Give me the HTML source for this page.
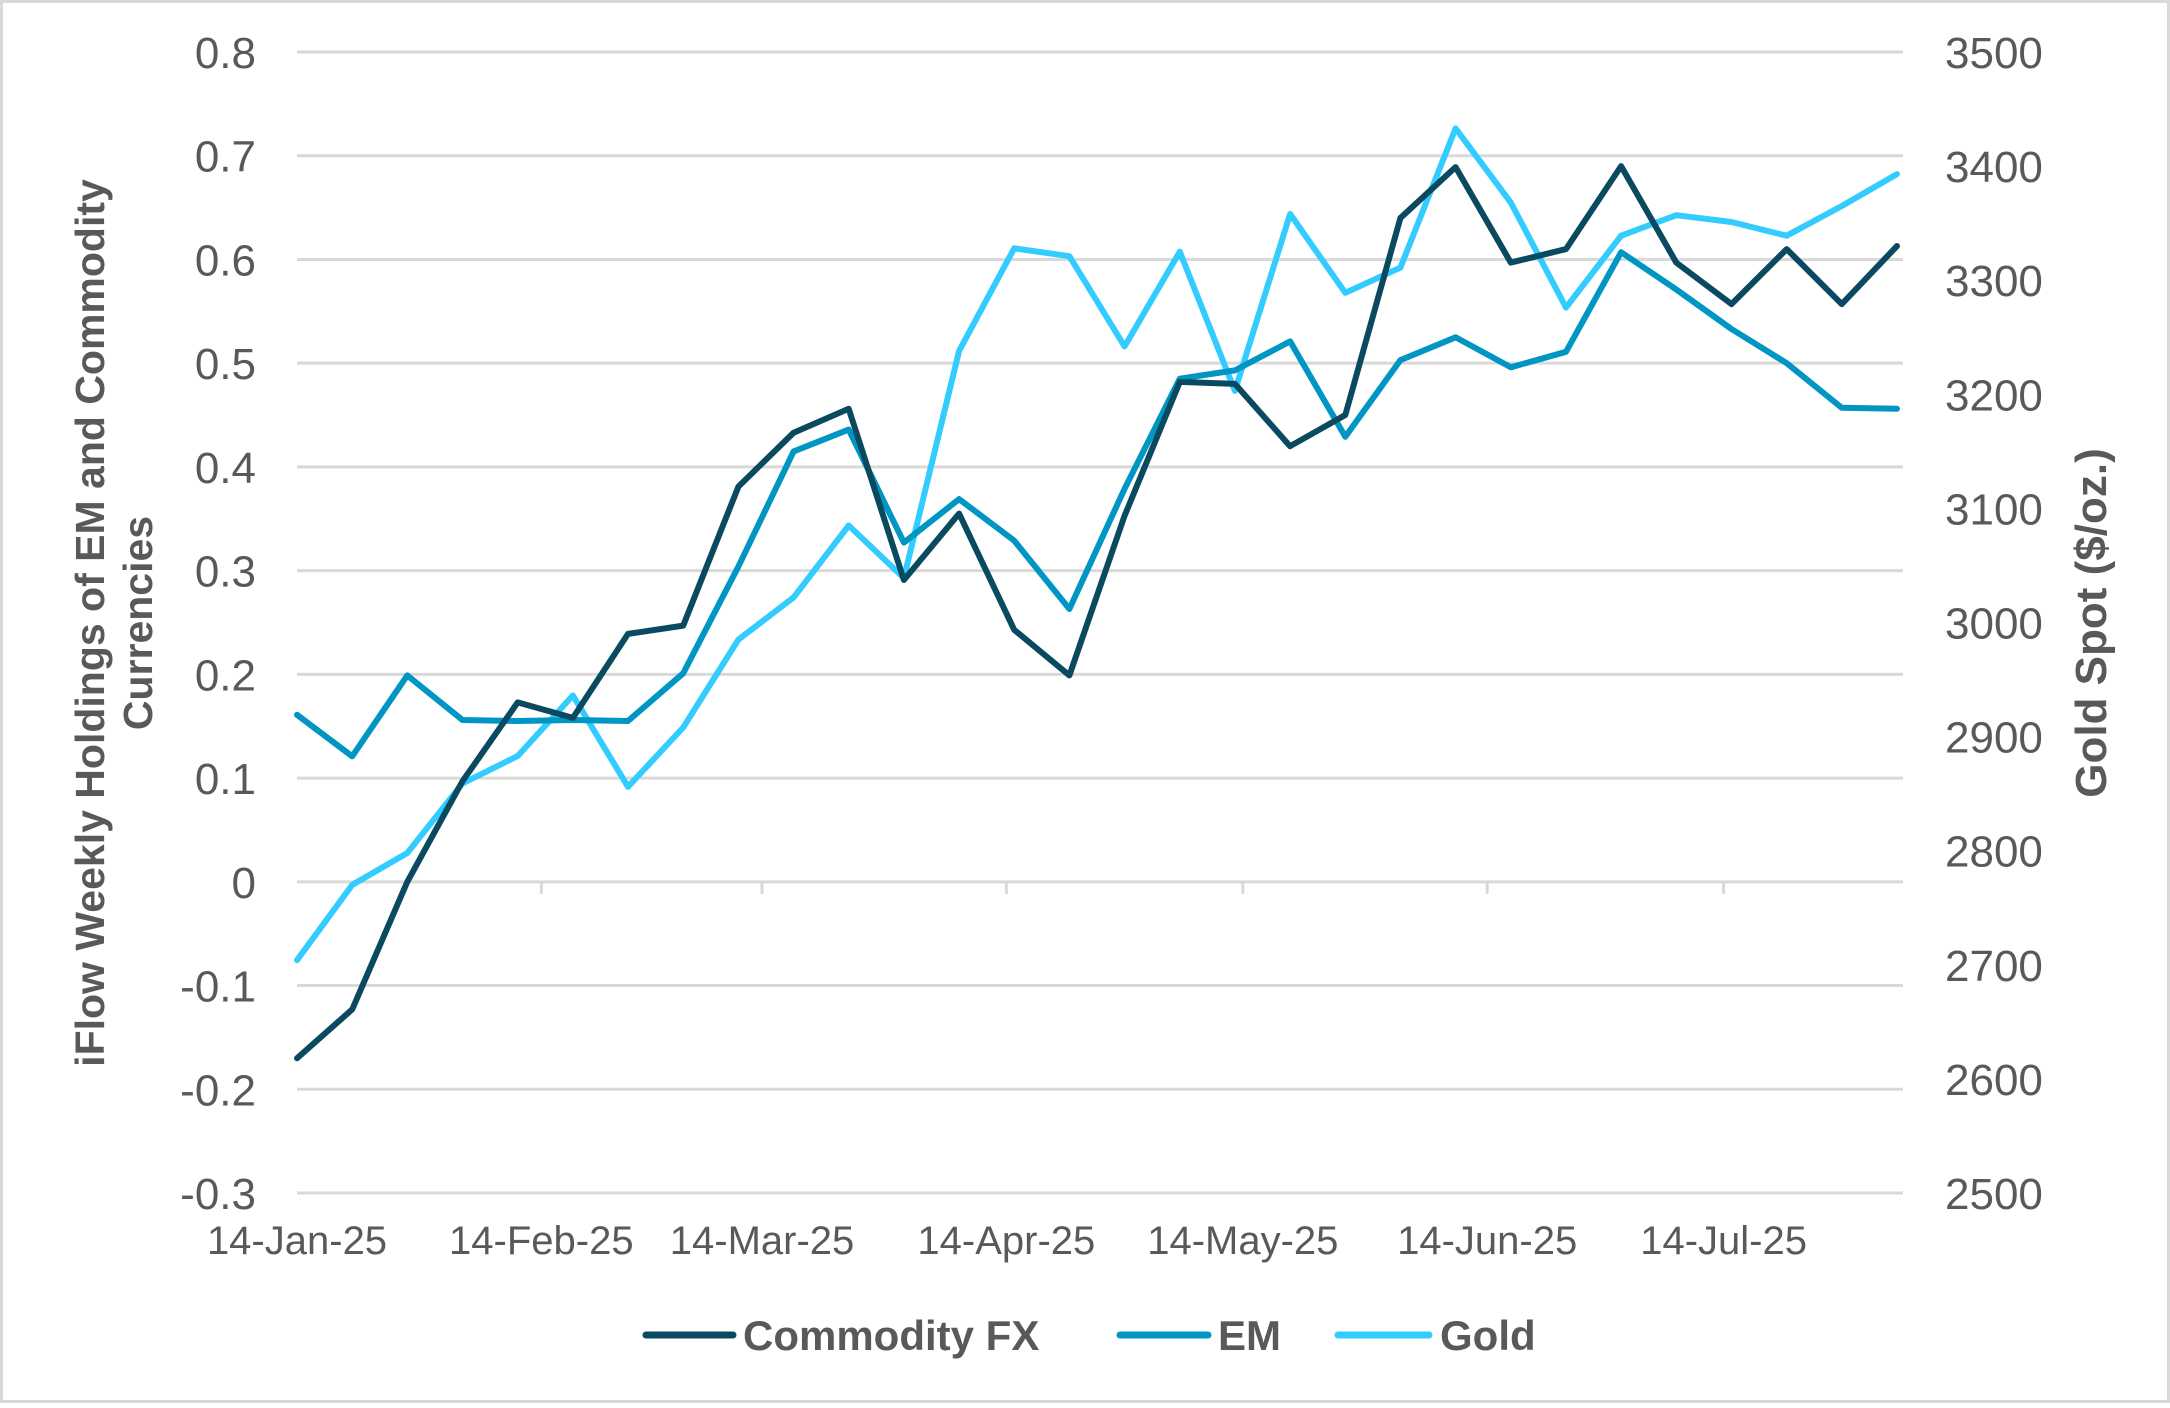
<!DOCTYPE html>
<html><head><meta charset="utf-8"><style>
html,body{margin:0;padding:0;background:#fff;}
body{width:2170px;height:1403px;overflow:hidden;font-family:"Liberation Sans",Arial,sans-serif;}
svg text{font-family:"Liberation Sans",Arial,sans-serif;fill:#595959;}
</style></head><body>
<svg id="chart" width="2170" height="1403" viewBox="0 0 2170 1403" xmlns="http://www.w3.org/2000/svg">
<rect x="1.5" y="1.5" width="2167" height="1400" fill="#fff" stroke="#d9d9d9" stroke-width="3"/>
<g id="grid"></g>
<g id="xticks"></g>
<g id="lticks"></g>
<g id="rticks"></g>
<g id="series"></g>
<text transform="translate(104,623) rotate(-90)" text-anchor="middle" font-size="41" font-weight="bold">iFlow Weekly Holdings of EM and Commodity</text>
<text transform="translate(152,623) rotate(-90)" text-anchor="middle" font-size="41" font-weight="bold">Currencies</text>
<text transform="translate(2106,623) rotate(-90)" text-anchor="middle" font-size="44" font-weight="bold">Gold Spot ($/oz.)</text>
<g>
<g><line x1="646" y1="1335" x2="733" y2="1335" stroke="#0a4a60" stroke-width="7" stroke-linecap="round"/><text x="743" y="1350" font-size="42" font-weight="bold">Commodity FX</text></g>
<g><line x1="1120" y1="1335" x2="1208" y2="1335" stroke="#0096c4" stroke-width="7" stroke-linecap="round"/><text x="1218" y="1350" font-size="42" font-weight="bold">EM</text></g>
<g><line x1="1338" y1="1335" x2="1429" y2="1335" stroke="#33ccff" stroke-width="7" stroke-linecap="round"/><text x="1440" y="1350" font-size="42" font-weight="bold">Gold</text></g>
</g>
</svg>
<script>
const commodityFX=[-0.17,-0.123,0,0.097,0.173,0.158,0.239,0.247,0.381,0.433,0.456,0.291,0.355,0.243,0.199,0.353,0.482,0.48,0.42,0.45,0.64,0.689,0.597,0.61,0.69,0.597,0.557,0.61,0.557,0.613];
const em=[0.161,0.121,0.199,0.156,0.155,0.156,0.155,0.201,0.304,0.415,0.436,0.327,0.369,0.329,0.263,0.379,0.485,0.493,0.521,0.429,0.503,0.525,0.496,0.511,0.607,0.571,0.533,0.5,0.457,0.456];
const gold=[2704,2770,2798,2859,2883,2936,2856,2908,2985,3022,3085,3039,3238,3328,3321,3242,3325,3203,3358,3289,3311,3433,3368,3276,3339,3357,3351,3339,3365,3393];
const xTickLabels=["14-Jan-25","14-Feb-25","14-Mar-25","14-Apr-25","14-May-25","14-Jun-25","14-Jul-25"];
const xTickDays=[0,31,59,90,120,151,181];
const leftTicks=[0.8,0.7,0.6,0.5,0.4,0.3,0.2,0.1,0,-0.1,-0.2,-0.3];
const rightTicks=[3500,3400,3300,3200,3100,3000,2900,2800,2700,2600,2500];

const NS="http://www.w3.org/2000/svg";
const X0=297,X1=1903,TOP=52,BOT=1193;
const lastDay=(gold.length-1)*7;
const xDay=d=>X0+d/lastDay*(X1-6-X0);
const yL=v=>TOP+(0.8-v)/1.1*(BOT-TOP);
const yR=v=>TOP+(3500-v)/1000*(BOT-TOP);
function mk(tag,attrs,parent){const e=document.createElementNS(NS,tag);for(const k in attrs)e.setAttribute(k,attrs[k]);parent.appendChild(e);return e;}
const grid=document.getElementById('grid'),lt=document.getElementById('lticks'),rt=document.getElementById('rticks'),xt=document.getElementById('xticks'),sg=document.getElementById('series');
leftTicks.forEach(v=>{
  const l=mk('line',{x1:X0,x2:X1,y1:yL(v),y2:yL(v),stroke:'#d9d9d9','stroke-width':3},grid);
  
  
  const t=mk('text',{x:256,y:yL(v)+16,'text-anchor':'end','font-size':44},lt);
  t.textContent=String(v);
  
  
});
rightTicks.forEach(v=>{
  const t=mk('text',{x:1945,y:yR(v)+16,'font-size':44},rt);
  t.textContent=String(v);
  
  
});
xTickDays.forEach((d,i)=>{
  const x=xDay(d);
  if(i>0){const m=mk('line',{x1:x,x2:x,y1:yL(0),y2:yL(0)+12,stroke:'#d9d9d9','stroke-width':3},xt);
  
  }
  const t=mk('text',{x:x,y:1254,'text-anchor':'middle','font-size':40},xt);
  t.textContent=xTickLabels[i];
  
  
});
function drawLine(arr,yf,color,name){
  const pts=arr.map((v,i)=>xDay(i*7).toFixed(1)+','+yf(v).toFixed(1)).join(' ');
  const p=mk('polyline',{points:pts,fill:'none',stroke:color,'stroke-width':6,'stroke-linejoin':'round','stroke-linecap':'round'},sg);
  
  
}
drawLine(gold,yR,'#33ccff','gold-line');
drawLine(em,yL,'#0096c4','em-line');
drawLine(commodityFX,yL,'#0a4a60','commodity-fx-line');
</script>
</body></html>
